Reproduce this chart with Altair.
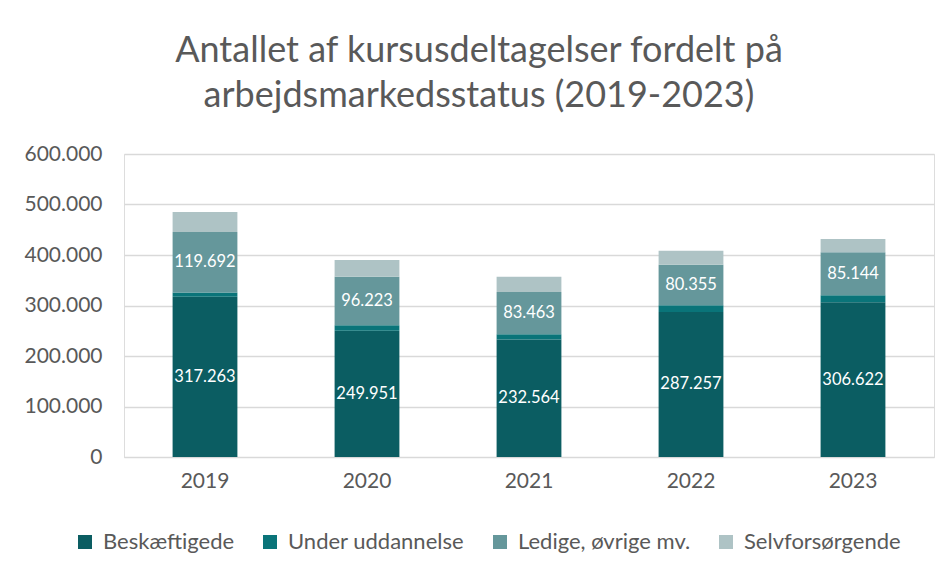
import altair as alt
import pandas as pd

years = ["2019", "2020", "2021", "2022", "2023"]
series = ["Beskæftigede", "Under uddannelse", "Ledige, øvrige mv.", "Selvforsørgende"]
beskaeftigede = [317263, 249951, 232564, 287257, 306622]
under_uddannelse = [8500, 10800, 10700, 13200, 13500]
ledige = [119692, 96223, 83463, 80355, 85144]
selvforsorgende = [39500, 33000, 30300, 27700, 26400]
labelled = ["Beskæftigede", "Ledige, øvrige mv."]
colors = ["#0B5D62", "#0A7479", "#65979B", "#AEC3C5"]

rows = []
for s_i, (name, vals) in enumerate(zip(series, [beskaeftigede, under_uddannelse, ledige, selvforsorgende])):
    for y, v in zip(years, vals):
        rows.append({"year": y, "series": name, "value": v, "idx": s_i,
                     "label": f"{v:,}".replace(",", ".") if name in labelled else ""})
df = pd.DataFrame(rows)

FONT = "Lato"
GREY = "#595959"

base = alt.Chart(df).transform_stack(
    stack="value", groupby=["year"], as_=["y0", "y1"], sort=[alt.SortField("idx", order="ascending")]
).transform_calculate(mid="(datum.y0 + datum.y1) / 2")

x_enc = alt.X("year:N", title=None, sort=years,
              scale=alt.Scale(paddingInner=0.6, paddingOuter=0.3),
              axis=alt.Axis(labelAngle=0, labelFontSize=21, labelColor=GREY, labelFont=FONT,
                            domain=True, domainColor="#D9D9D9", ticks=False, labelPadding=13))

bars = base.mark_bar().encode(
    x=x_enc,
    y=alt.Y("y0:Q", title=None, scale=alt.Scale(domain=[0, 600000]),
            axis=alt.Axis(values=[0, 100000, 200000, 300000, 400000, 500000, 600000],
                          labelExpr="replace(format(datum.value, ','), ',', '.')",
                          labelFontSize=21, labelColor=GREY, labelFont=FONT, labelPadding=22,
                          domain=False, ticks=False, gridColor="#D9D9D9", gridWidth=1.5)),
    y2="y1:Q",
    color=alt.Color("series:N", sort=series,
                    scale=alt.Scale(domain=series, range=colors),
                    legend=alt.Legend(title=None, orient="none", direction="horizontal",
                                      legendX=-50, legendY=377, symbolType="square",
                                      symbolSize=196, symbolStrokeWidth=0, labelFontSize=22,
                                      labelColor=GREY, labelFont=FONT, columnPadding=24,
                                      labelOffset=7, labelLimit=400)),
    order=alt.Order("idx:Q"),
)

text = base.transform_filter("datum.label != ''").mark_text(
    color="white", fontSize=16.5, font=FONT
).encode(
    x=alt.X("year:N", sort=years),
    y=alt.Y("mid:Q"),
    text="label:N",
)

chart = alt.layer(bars, text).properties(
    width=810, height=303,
    title=alt.TitleParams(["Antallet af kursusdeltagelser fordelt på", "arbejdsmarkedsstatus (2019-2023)"],
                          fontSize=36, font=FONT, color=GREY, fontWeight="normal",
                          anchor="middle", frame="bounds", lineHeight=45, offset=28),
    autosize=alt.AutoSizeParams(type="none"),
    padding={"left": 116, "top": 146, "right": 10, "bottom": 111},
).configure_view(stroke=None).configure(background="white")

chart.save("out.html", embed_options={"renderer": "svg", "actions": False})
